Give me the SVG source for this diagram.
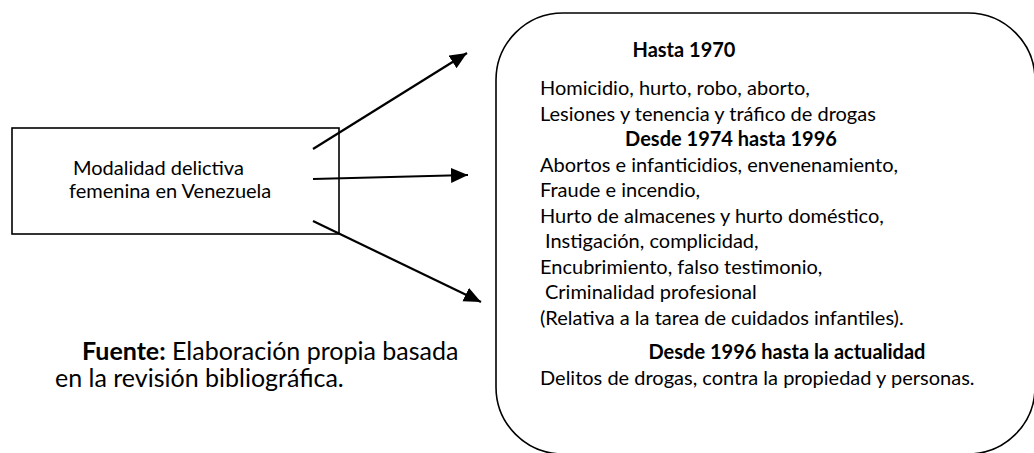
<svg xmlns="http://www.w3.org/2000/svg" width="1034" height="453" viewBox="0 0 1034 453">
<style>
.t{font-family:Lato,"Open Sans","Liberation Sans",sans-serif;fill:#000;}
.b{font-size:20px;}
.h{font-size:20px;font-weight:bold;}
.box{fill:#fff;stroke:#000;stroke-width:1.6;}
.con{stroke:#000;stroke-width:2.2;fill:none;}
</style>
<defs>
<marker id="ah" markerUnits="userSpaceOnUse" markerWidth="18" markerHeight="16" refX="17" refY="7.5" orient="auto">
<path d="M0,0 L17,7.5 L0,15 z" fill="#000"/>
</marker>
</defs>
<rect width="1034" height="453" fill="#fff"/>
<g id="node-modalidad">
<rect class="box" x="12" y="128" width="327" height="106"/>
<text class="t" x="73" y="175" font-size="20">Modalidad delictiva</text>
<text class="t" x="69" y="198" font-size="20">femenina en Venezuela</text>
</g>
<g id="connectors">
<line class="con" x1="313" y1="149" x2="467" y2="53" marker-end="url(#ah)"/>
<line class="con" x1="313" y1="179" x2="468" y2="175" marker-end="url(#ah)"/>
<line class="con" x1="313" y1="221" x2="481" y2="302" marker-end="url(#ah)"/>
</g>
<g id="node-periodos">
<rect class="box" x="496" y="13" width="539" height="441" rx="67" ry="67"/>
<text class="t h" x="684" y="57" text-anchor="middle">Hasta 1970</text>
<text class="t b" x="540" y="95">Homicidio, hurto, robo, aborto,</text>
<text class="t b" x="540" y="120.5">Lesiones y tenencia y tráfico de drogas</text>
<text class="t h" x="731" y="146" text-anchor="middle">Desde 1974 hasta 1996</text>
<text class="t b" x="540" y="171.5">Abortos e infanticidios, envenenamiento,</text>
<text class="t b" x="540" y="197">Fraude e incendio,</text>
<text class="t b" x="540" y="222.5">Hurto de almacenes y hurto doméstico,</text>
<text class="t b" x="545" y="248">Instigación, complicidad,</text>
<text class="t b" x="540" y="273.5">Encubrimiento, falso testimonio,</text>
<text class="t b" x="545" y="299">Criminalidad profesional</text>
<text class="t b" x="540" y="324.5">(Relativa a la tarea de cuidados infantiles).</text>
<text class="t h" x="787" y="359" text-anchor="middle">Desde 1996 hasta la actualidad</text>
<text class="t b" x="540" y="385">Delitos de drogas, contra la propiedad y personas.</text>
</g>
<g id="fuente">
<text class="t" x="82" y="360" font-size="25"><tspan font-weight="bold">Fuente:</tspan> Elaboración propia basada</text>
<text class="t" x="55" y="387" font-size="25">en la revisión bibliográfica.</text>
</g>
</svg>
